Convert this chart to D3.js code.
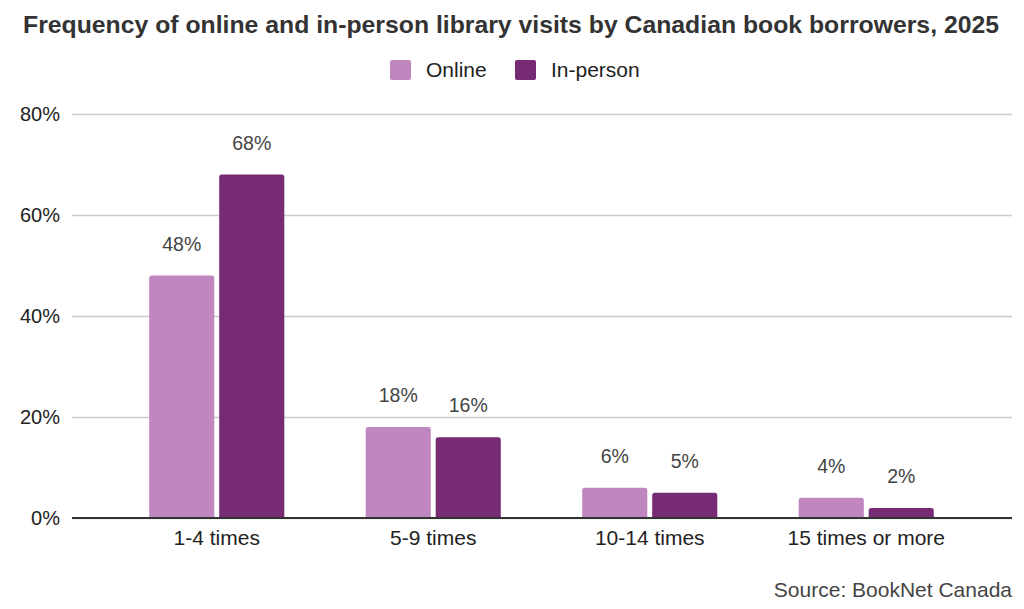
<!DOCTYPE html>
<html>
<head>
<meta charset="utf-8">
<script src="https://cdn.jsdelivr.net/npm/d3@7"></script>
<style>
  body { margin: 0; background: #fff; }
  svg { display: block; font-family: "Liberation Sans", Arial, sans-serif; }
</style>
</head>
<body>
<svg id="chart" width="1024" height="609"></svg>
<script>
"use strict";

// data
var categories = ["1-4 times", "5-9 times", "10-14 times", "15 times or more"];
var seriesNames = ["Online", "In-person"];
var online = [48, 18, 6, 4];
var inPerson = [68, 16, 5, 2];
var yTicks = [0, 20, 40, 60, 80];

var colors = { "Online": "#bf86bf", "In-person": "#772b75" };

var svg = d3.select("#chart");
var plotLeft = 72, plotRight = 1012, plotTop = 114, plotBottom = 518;

var rows = categories.map(function(c, i){
    return { cat: c, values: [
        { key: "Online", value: online[i] },
        { key: "In-person", value: inPerson[i] }
    ]};
});

var x0 = d3.scaleBand().domain(categories)
    .range([108.5, 974.5]).paddingInner(0.376).paddingOuter(0.188);
var x1 = d3.scaleBand().domain(seriesNames)
    .range([0, x0.bandwidth()]).paddingInner(0.07);
var y = d3.scaleLinear().domain([0, 80]).range([plotBottom, plotTop]);

/* title */
svg.append("text")
    .attr("x", 511).attr("y", 33)
    .attr("text-anchor", "middle")
    .attr("font-size", 24).attr("font-weight", "bold")
    .attr("fill", "#333")
    .attr("textLength", 976).attr("lengthAdjust", "spacingAndGlyphs")
    .text("Frequency of online and in-person library visits by Canadian book borrowers, 2025");

/* legend */
var legendItems = [
    { key: "Online", sx: 390, tx: 426 },
    { key: "In-person", sx: 515, tx: 551 }
];
var lg = svg.append("g").attr("class", "legend");
lg.selectAll("rect").data(legendItems).enter().append("rect")
    .attr("x", function(d){ return d.sx; }).attr("y", 60)
    .attr("width", 21).attr("height", 20).attr("rx", 2)
    .attr("fill", function(d){ return colors[d.key]; });
lg.selectAll("text").data(legendItems).enter().append("text")
    .attr("x", function(d){ return d.tx; }).attr("y", 77)
    .attr("font-size", 21).attr("fill", "#222")
    .text(function(d){ return d.key; });

/* gridlines + y labels */
var yAxis = d3.axisLeft(y).tickValues(yTicks)
    .tickSize(-(plotRight - plotLeft))
    .tickFormat(function(d){ return d + "%"; });
var gy = svg.append("g").attr("transform", "translate(" + plotLeft + ",0)").call(yAxis);
gy.select(".domain").remove();
gy.selectAll(".tick line").attr("stroke", "#ccc").attr("stroke-width", 1.3);
gy.selectAll(".tick text")
    .attr("x", -12).attr("font-size", 20).attr("fill", "#222")
    .attr("font-family", "Liberation Sans, Arial, sans-serif");

/* bars */
var groups = svg.append("g").selectAll("g").data(rows).enter().append("g")
    .attr("transform", function(d){ return "translate(" + x0(d.cat) + ",0)"; });

groups.selectAll("path").data(function(d){ return d.values; }).enter().append("path")
    .attr("fill", function(d){ return colors[d.key]; })
    .attr("d", function(d){
        var bx = x1(d.key), bw = x1.bandwidth(), top = y(d.value), r = 2.5;
        return "M" + bx + "," + plotBottom +
            "V" + (top + r) + "Q" + bx + "," + top + " " + (bx + r) + "," + top +
            "H" + (bx + bw - r) + "Q" + (bx + bw) + "," + top + " " + (bx + bw) + "," + (top + r) +
            "V" + plotBottom + "Z";
    });

groups.selectAll("text").data(function(d){ return d.values; }).enter().append("text")
    .attr("x", function(d){ return x1(d.key) + x1.bandwidth() / 2; })
    .attr("y", function(d){ return y(d.value) - 25; })
    .attr("text-anchor", "middle")
    .attr("font-size", 19.5).attr("fill", "#444")
    .text(function(d){ return d.value + "%"; });

/* baseline + category labels */
var xAxis = d3.axisBottom(x0).tickSize(0).tickPadding(12);
var gx = svg.append("g").attr("transform", "translate(0," + plotBottom + ")").call(xAxis);
gx.select(".domain").remove();
gx.selectAll(".tick text").attr("font-size", 21).attr("fill", "#222")
    .attr("font-family", "Liberation Sans, Arial, sans-serif");
svg.append("line")
    .attr("x1", plotLeft).attr("x2", plotRight)
    .attr("y1", plotBottom).attr("y2", plotBottom)
    .attr("stroke", "#333").attr("stroke-width", 2);

/* source */
svg.append("text")
    .attr("x", 1012).attr("y", 597)
    .attr("text-anchor", "end")
    .attr("font-size", 21).attr("fill", "#444")
    .text("Source: BookNet Canada");
</script>
</body>
</html>
